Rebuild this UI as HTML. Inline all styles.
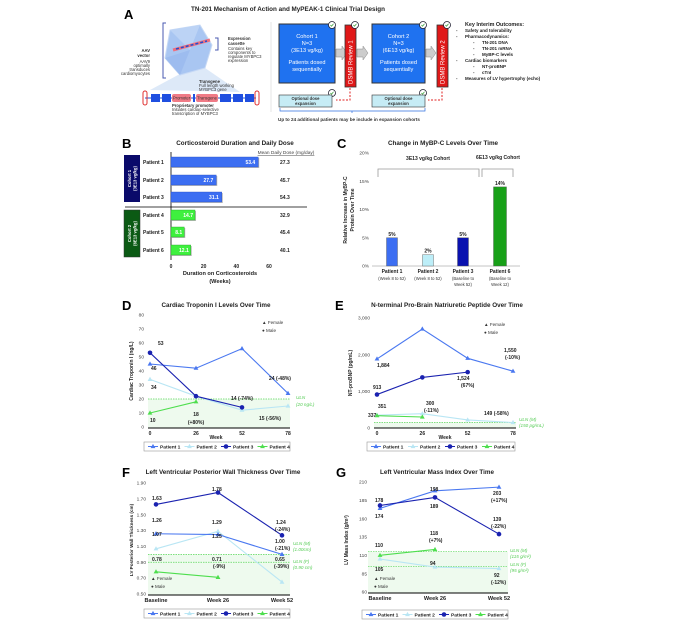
<!DOCTYPE html>
<html><head><meta charset="utf-8"><style>
html,body{margin:0;padding:0;background:#fff;}
svg{display:block;font-family:"Liberation Sans",sans-serif;}
.t{font-size:6.3px;font-weight:bold;fill:#222;text-anchor:middle}
.L{font-size:13px;font-weight:bold;fill:#000}
.tk{font-size:4.8px;fill:#444}
.lb{font-size:5px;font-weight:bold;fill:#222}
.sm{font-size:4.2px;fill:#333}
.cb{font-size:5.6px;fill:#fff;text-anchor:middle}
.g{font-size:4.6px;fill:#55cc55;font-style:italic}
.ko{font-size:4.5px;font-weight:bold;fill:#222}
</style></head><body>
<svg id="fig" width="679" height="624" viewBox="0 0 679 624" xmlns="http://www.w3.org/2000/svg">
<!-- Panel A -->
<g>
<text class="L" x="124" y="19">A</text>
<text class="t" x="288" y="11">TN-201 Mechanism of Action and MyPEAK-1 Clinical Trial Design</text>
<polygon points="150,90 178,75 205,68 240,92" fill="#dde9f8"/>
<polygon points="170,30 200,25 212,45 205,68 180,75 165,58" fill="#a9c6f2" stroke="#c7d9f5"/>
<polygon points="170,30 200,25 190,50" fill="#bcd3f5"/>
<polygon points="165,58 180,75 190,50" fill="#9dbcef"/>
<line x1="173" y1="50" x2="210" y2="40" stroke="#ef6f7f" stroke-width="3"/>
<line x1="176" y1="49" x2="207" y2="41" stroke="#2050d0" stroke-width="1.5" stroke-dasharray="3,2"/>
<path d="M166,23 h-3 v55 h3" fill="none" stroke="#4a5ab0"/>
<text x="150" y="52" class="sm" font-weight="bold" fill="#223399" text-anchor="end">AAV</text>
<text x="150" y="57" class="sm" font-weight="bold" fill="#223399" text-anchor="end">vector</text>
<text x="150" y="63" class="sm" text-anchor="end">AAV9</text><text x="150" y="67" class="sm" text-anchor="end">optimally</text><text x="150" y="71" class="sm" text-anchor="end">transduces</text><text x="150" y="75" class="sm" text-anchor="end">cardiomyocytes</text>
<path d="M215,38 h3 v12 h-3" fill="none" stroke="#4a5ab0"/>
<text x="228" y="40" class="sm" font-weight="bold" fill="#223399">Expression</text>
<text x="228" y="45" class="sm" font-weight="bold" fill="#223399">cassette</text>
<text x="228" y="50" class="sm">Contains key</text><text x="228" y="54" class="sm">components to</text><text x="228" y="58" class="sm">regulate MYBPC3</text><text x="228" y="62" class="sm">expression</text>
<text x="199" y="83" class="sm" font-weight="bold" fill="#223399">Transgene</text>
<text x="199" y="87" class="sm">Full length working</text><text x="199" y="91" class="sm">MYBPC3 gene</text>
<g>
<line x1="145" y1="98" x2="256" y2="98" stroke="#2050d0" stroke-width="1"/>
<rect x="143" y="91" width="4" height="14" rx="2" fill="none" stroke="#e03030"/>
<rect x="255" y="91" width="4" height="14" rx="2" fill="none" stroke="#e03030"/>
<rect x="151" y="94" width="9" height="8" fill="#1f4fe0"/><rect x="162" y="94" width="9" height="8" fill="#1f4fe0"/>
<rect x="172" y="94" width="19" height="8" rx="2" fill="#f07b86"/><text x="181.5" y="99.5" class="sm" fill="#fff" text-anchor="middle">Promoter</text>
<rect x="193" y="94" width="2" height="8" fill="#1f4fe0"/>
<rect x="196" y="94" width="22" height="8" rx="2" fill="#f07b86"/><text x="207" y="99.5" class="sm" fill="#fff" text-anchor="middle">Transgene</text>
<rect x="220" y="94" width="11" height="8" fill="#1f4fe0"/><rect x="233" y="94" width="10" height="8" fill="#1f4fe0"/><rect x="245" y="94" width="9" height="8" fill="#1f4fe0"/>
</g>
<text x="172" y="107" class="sm" font-weight="bold" fill="#223399">Proprietary promoter</text>
<text x="172" y="111" class="sm">Initiates cardiac-selective</text><text x="172" y="115" class="sm">transcription of MYBPC3</text>
<line x1="271" y1="22" x2="271" y2="112" stroke="#ccc" stroke-width="0.5"/>
<rect x="279" y="24" width="56" height="59" fill="#1f72f0" stroke="#333" stroke-width="1"/>
<text x="307" y="38" class="cb">Cohort 1</text>
<text x="307" y="45" class="cb">N=3</text>
<text x="307" y="52" class="cb">(3E13 vg/kg)</text>
<text x="307" y="64" class="cb">Patients dosed</text>
<text x="307" y="71" class="cb">sequentially</text>
<polygon points="336,49 342,49 342,46 347,53 342,60 342,57 336,57" fill="#ccc" stroke="#888" stroke-width="0.5"/>
<rect x="345" y="25" width="11" height="62" fill="#e01818" stroke="#333" stroke-width="0.8"/>
<text transform="translate(352.5,84) rotate(-90)" class="cb" style="text-anchor:start;font-size:6px">DSMB Review 1</text>
<polygon points="357,49 363,49 363,46 368,53 363,60 363,57 357,57" fill="#ccc" stroke="#888" stroke-width="0.5"/>
<rect x="372" y="24" width="53" height="59" fill="#1f72f0" stroke="#333" stroke-width="1"/>
<text x="398.5" y="38" class="cb">Cohort 2</text>
<text x="398.5" y="45" class="cb">N=3</text>
<text x="398.5" y="52" class="cb">(6E13 vg/kg)</text>
<text x="398.5" y="64" class="cb">Patients dosed</text>
<text x="398.5" y="71" class="cb">sequentially</text>
<polygon points="426,49 431,49 431,46 436,53 431,60 431,57 426,57" fill="#ccc" stroke="#888" stroke-width="0.5"/>
<rect x="437" y="25" width="11" height="62" fill="#e01818" stroke="#333" stroke-width="0.8"/>
<text transform="translate(444.5,84) rotate(-90)" class="cb" style="text-anchor:start;font-size:6px">DSMB Review 2</text>
<g fill="#fff" stroke="#223" stroke-width="0.8">
<circle cx="332" cy="25" r="3.5"/><circle cx="355" cy="25" r="3.5"/><circle cx="423" cy="25" r="3.5"/><circle cx="447" cy="25" r="3.5"/><circle cx="332" cy="93" r="3.5"/><circle cx="423" cy="93" r="3.5"/>
</g>
<g fill="none" stroke="#2a9a2a" stroke-width="0.7">
<path d="M330.5,25 l1,1.2 l2,-2.4"/><path d="M353.5,25 l1,1.2 l2,-2.4"/><path d="M421.5,25 l1,1.2 l2,-2.4"/><path d="M445.5,25 l1,1.2 l2,-2.4"/><path d="M330.5,93 l1,1.2 l2,-2.4"/><path d="M421.5,93 l1,1.2 l2,-2.4"/>
</g>
<path d="M350,88 v12 h-14 M442,88 v12 h-14" fill="none" stroke="#e02020" stroke-dasharray="2,1.5"/>
<rect x="279" y="95" width="53" height="12" fill="#c6ecf5" stroke="#333" stroke-width="0.6"/>
<text x="305.5" y="100" class="sm" font-weight="bold" text-anchor="middle">Optional dose</text><text x="305.5" y="105" class="sm" font-weight="bold" text-anchor="middle">expansion</text>
<rect x="372" y="95" width="53" height="12" fill="#c6ecf5" stroke="#333" stroke-width="0.6"/>
<text x="398.5" y="100" class="sm" font-weight="bold" text-anchor="middle">Optional dose</text><text x="398.5" y="105" class="sm" font-weight="bold" text-anchor="middle">expansion</text>
<path d="M280,108 v3 h145 v-3 M352,111 v2" fill="none" stroke="#3070e0" stroke-width="0.7"/>
<text x="278" y="121" class="sm" font-weight="bold" style="font-size:4.6px">Up to 24 additional patients may be include in expansion cohorts</text>
<g>
<text x="465" y="26" class="ko" style="font-size:5.4px">Key Interim Outcomes:</text>
<text x="456" y="32" class="ko">-</text><text x="465" y="32" class="ko">Safety and tolerability</text>
<text x="456" y="38" class="ko">-</text><text x="465" y="38" class="ko">Pharmacodynamics:</text>
<text x="473" y="44" class="ko">-</text><text x="482" y="44" class="ko">TN-201 DNA</text>
<text x="473" y="50" class="ko">-</text><text x="482" y="50" class="ko">TN-201 mRNA</text>
<text x="473" y="56" class="ko">-</text><text x="482" y="56" class="ko">MyBP-C levels</text>
<text x="456" y="62" class="ko">-</text><text x="465" y="62" class="ko">Cardiac biomarkers</text>
<text x="473" y="68" class="ko">-</text><text x="482" y="68" class="ko">NT-proBNP</text>
<text x="473" y="74" class="ko">-</text><text x="482" y="74" class="ko">cTnI</text>
<text x="456" y="80" class="ko">-</text><text x="465" y="80" class="ko">Measures of LV hypertrophy (echo)</text>
</g>
</g>
<!-- Panel B static -->
<text class="L" x="122" y="148">B</text>
<text class="t" x="235" y="145">Corticosteroid Duration and Daily Dose</text>
<text x="286" y="154" class="tk" text-anchor="middle" text-decoration="underline">Mean Daily Dose (mg/day)</text>
<rect x="124" y="155" width="16" height="47" fill="#0a0a6a"/>
<text transform="translate(131,178.5) rotate(-90)" class="sm" fill="#fff" text-anchor="middle" style="fill:#fff;font-weight:bold">Cohort 1</text>
<text transform="translate(136.5,178.5) rotate(-90)" class="sm" text-anchor="middle" style="fill:#fff;font-weight:bold">(3E13 vg/kg)</text>
<rect x="124" y="210" width="16" height="47" fill="#0b5a14" stroke="#333" stroke-width="0.5"/>
<text transform="translate(131,233.5) rotate(-90)" class="sm" text-anchor="middle" style="fill:#fff;font-weight:bold">Cohort 2</text>
<text transform="translate(136.5,233.5) rotate(-90)" class="sm" text-anchor="middle" style="fill:#fff;font-weight:bold">(6E13 vg/kg)</text>
<line x1="125" y1="207" x2="307" y2="207" stroke="#000" stroke-width="0.8"/>
<text x="220" y="275" class="lb" text-anchor="middle" style="font-size:5.6px">Duration on Corticosteroids</text>
<text x="220" y="283" class="lb" text-anchor="middle" style="font-size:5.6px">(Weeks)</text>
<g id="gB"></g>
<!-- Panel C static -->
<text class="L" x="337" y="148">C</text>
<text class="t" x="443" y="145">Change in MyBP-C Levels Over Time</text>
<text x="428" y="160" class="lb" text-anchor="middle">3E13 vg/kg Cohort</text>
<text x="498" y="159" class="lb" text-anchor="middle">6E13 vg/kg Cohort</text>
<path d="M378,177 v-8 h101 v8 M482,177 v-8 h31 v8" fill="none" stroke="#999" stroke-width="0.8"/>
<text transform="translate(347,210) rotate(-90)" class="lb" text-anchor="middle">Relative Increase in MyBP-C</text>
<text transform="translate(354,210) rotate(-90)" class="lb" text-anchor="middle">Protein Over Time</text>
<g id="gC"></g>
<!-- Panel D static -->
<text class="L" x="122" y="310">D</text>
<text class="t" x="216" y="307">Cardiac Troponin I Levels Over Time</text>
<text transform="translate(133,371) rotate(-90)" class="lb" text-anchor="middle">Cardiac Troponin I (ng/L)</text>
<text x="216" y="439" class="lb" text-anchor="middle">Week</text>
<g id="gD"></g>
<g>
<text class="lb" x="158" y="345">53</text><text class="lb" x="151" y="370">46</text><text class="lb" x="151" y="389">34</text><text class="lb" x="150" y="422">10</text>
<text class="lb" x="196" y="416" text-anchor="middle">18</text><text class="lb" x="196" y="424" text-anchor="middle">(+80%)</text>
<text class="lb" x="242" y="400" text-anchor="middle">14 (-74%)</text><text class="lb" x="270" y="420" text-anchor="middle">15 (-56%)</text><text class="lb" x="280" y="380" text-anchor="middle">24 (-48%)</text>
</g>
<text x="296" y="399" class="g">ULN</text><text x="296" y="406" class="g">(20 ng/L)</text>
<!-- Panel E static -->
<text class="L" x="335" y="310">E</text>
<text class="t" x="447" y="307">N-terminal Pro-Brain Natriuretic Peptide Over Time</text>
<text transform="translate(352,373) rotate(-90)" class="lb" text-anchor="middle">NT-proBNP (pg/mL)</text>
<text x="445" y="439" class="lb" text-anchor="middle">Week</text>
<g id="gE"></g>
<g>
<text class="lb" x="377" y="367">1,884</text><text class="lb" x="373" y="389">913</text><text class="lb" x="457" y="380">1,524</text><text class="lb" x="461" y="387">(67%)</text>
<text class="lb" x="504" y="352">1,550</text><text class="lb" x="505" y="359">(-10%)</text>
<text class="lb" x="378" y="408">351</text><text class="lb" x="368" y="417">337</text>
<text class="lb" x="426" y="405">300</text><text class="lb" x="424" y="412">(-11%)</text><text class="lb" x="484" y="415">149 (-58%)</text>
</g>
<text x="519" y="421" class="g">ULN (M)</text><text x="519" y="427" class="g">(150 pg/mL)</text>
<!-- Panel F static -->
<text class="L" x="122" y="477">F</text>
<text class="t" x="223" y="474">Left Ventricular Posterior Wall Thickness Over Time</text>
<text transform="translate(133,540) rotate(-90)" class="lb" text-anchor="middle" style="font-size:4.6px">LV Posterior Wall Thickness (cm)</text>
<g id="gF"></g>
<g>
<text class="lb" x="152" y="500">1.63</text><text class="lb" x="212" y="491">1.78</text><text class="lb" x="276" y="524">1.24</text><text class="lb" x="275" y="531">(-24%)</text>
<text class="lb" x="152" y="522">1.26</text><text class="lb" x="212" y="524">1.29</text><text class="lb" x="212" y="538">1.25</text><text class="lb" x="275" y="543">1.00</text><text class="lb" x="275" y="550">(-21%)</text>
<text class="lb" x="152" y="536">1.07</text><text class="lb" x="152" y="561">0.78</text><text class="lb" x="212" y="561">0.71</text><text class="lb" x="213" y="568">(-9%)</text>
<text class="lb" x="275" y="561">0.65</text><text class="lb" x="274" y="568">(-39%)</text>
</g>
<text x="293" y="545" class="g">ULN (M)</text><text x="293" y="551" class="g">(1.00cm)</text>
<text x="293" y="563" class="g">ULN (F)</text><text x="293" y="569" class="g">(0.90 cm)</text>
<text x="151" y="580" class="sm" style="font-size:4.6px">▲ Female</text><text x="151" y="588" class="sm" style="font-size:4.6px">● Male</text>
<!-- Panel G static -->
<text class="L" x="336" y="477">G</text>
<text class="t" x="437" y="474">Left Ventricular Mass Index Over Time</text>
<text transform="translate(348,540) rotate(-90)" class="lb" text-anchor="middle">LV Mass Index (g/m²)</text>
<g id="gG"></g>
<g>
<text class="lb" x="375" y="502">178</text><text class="lb" x="375" y="518">174</text><text class="lb" x="430" y="491">198</text><text class="lb" x="430" y="508">189</text>
<text class="lb" x="493" y="495">203</text><text class="lb" x="491" y="502">(+17%)</text><text class="lb" x="493" y="521">139</text><text class="lb" x="491" y="528">(-22%)</text>
<text class="lb" x="375" y="547">110</text><text class="lb" x="430" y="535">118</text><text class="lb" x="429" y="542">(+7%)</text><text class="lb" x="430" y="565">94</text>
<text class="lb" x="375" y="571">105</text><text class="lb" x="494" y="577">92</text><text class="lb" x="491" y="584">(-12%)</text>
</g>
<text x="510" y="552" class="g">ULN (M)</text><text x="510" y="558" class="g">(115 g/m²)</text>
<text x="510" y="566" class="g">ULN (F)</text><text x="510" y="572" class="g">(95 g/m²)</text>
<text x="374" y="580" class="sm" style="font-size:4.6px">▲ Female</text><text x="374" y="588" class="sm" style="font-size:4.6px">● Male</text>
</svg>
<script>
// ---------- data ----------
const bPatients=["Patient 1","Patient 2","Patient 3","Patient 4","Patient 5","Patient 6"];
const bDuration=[53.4,27.7,31.1,14.7,8.1,12.1];
const bDose=[27.3,45.7,54.3,32.9,45.4,40.1];
const bTicks=[0,20,40,60];
const cCats=["Patient 1","Patient 2","Patient 3","Patient 6"];
const cSub1=["(Week 8 to 52)","(Week 8 to 52)","(Baseline to","(Baseline to"];
const cSub2=["","","Week 52)","Week 12)"];
const cValues=[5,2,5,14];
const cTicks=[0,5,10,15,20];
const dWeeks=[0,26,52,78];
const dYTicks=[0,10,20,30,40,50,60,70,80];
const dP1=[45,42,56,24];
const dP2=[34,22,12,15];
const dP3=[53,22,14];
const dP4=[10,18];
const dULN=20;
const eWeeks=[0,26,52,78];
const eYTicks=[0,1000,2000,3000];
const eP1=[1884,2700,1900,1550];
const eP2=[351,390,220,149];
const eP3=[913,1380,1524];
const eP4=[337,300];
const eULN=150;
const fCats=["Baseline","Week 26","Week 52"];
const fYTicks=[0.5,0.7,0.9,1.1,1.3,1.5,1.7,1.9];
const fP1=[1.26,1.25,1.00];
const fP2=[1.07,1.29,0.65];
const fP3=[1.63,1.78,1.24];
const fP4=[0.78,0.71];
const fULNM=1.00, fULNF=0.90;
const gCats=["Baseline","Week 26","Week 52"];
const gYTicks=[60,85,110,135,160,185,210];
const gP1=[174,198,203];
const gP2=[105,94,92];
const gP3=[178,189,139];
const gP4=[110,118];
const gULNM=115, gULNF=95;
// ---------- helpers ----------
const NS="http://www.w3.org/2000/svg";
function mk(p,tag,a,txt){const e=document.createElementNS(NS,tag);for(const k in a){if(k==="fs")e.style.fontSize=a[k]+"px";else if(k==="fillc")e.style.fill=a[k];else e.setAttribute(k,a[k]);}if(txt!==undefined)e.textContent=txt;p.appendChild(e);return e;}
const COL={p1:"#4a78f0",p2:"#b9e6f4",p3:"#1a22b0",p4:"#4ede4e"};
function marker(g,x,y,col,circle){let m;
 if(circle){m=mk(g,"circle",{cx:x,cy:y,r:2.3,fill:col});}
 else{m=mk(g,"polygon",{points:`${x},${y-2.6} ${x+2.4},${y+1.6} ${x-2.4},${y+1.6}`,fill:col});}
 
 }
function series(g,xs,vals,sx,sy,col,circle,name){
 const pts=vals.map((v,i)=>sx(xs[i])+","+sy(v)).join(" ");
 const l=mk(g,"polyline",{points:pts,fill:"none",stroke:col,"stroke-width":1.1});
 
 
 vals.forEach((v,i)=>marker(g,sx(xs[i]),sy(v),col,circle));}
function yAxis(g,ticks,sy,xr,fmt){ticks.forEach(t=>{const tx=mk(g,"text",{x:xr,y:sy(t)+1.6,class:"tk","text-anchor":"end"},fmt(t));
 
 });}
function legend(g,x0,y0,w){const r=mk(g,"rect",{x:x0,y:y0,width:w,height:9,fill:"#fff",stroke:"#999","stroke-width":0.6});
 
 
 const names=["Patient 1","Patient 2","Patient 3","Patient 4"],cols=[COL.p1,COL.p2,COL.p3,COL.p4];
 names.forEach((n,i)=>{const x=x0+4+i*w/4;mk(g,"line",{x1:x,y1:y0+4.5,x2:x+10,y2:y0+4.5,stroke:cols[i],"stroke-width":1});
 marker(g,x+5,y0+4.5,cols[i],i==2);
 const t=mk(g,"text",{x:x+12,y:y0+6.3,class:"lb",fs:4.9},n);
 
 });}
// ---------- Panel B ----------
(function(){const g=document.getElementById("gB");
 const sx=v=>171+v*98/60;const rows=[162,180,197,215,232,250];
 mk(g,"line",{x1:171,y1:152,x2:171,y2:260,stroke:"#000","stroke-width":0.8});
 bTicks.forEach(t=>{const tx=mk(g,"text",{x:sx(t),y:268,class:"lb","text-anchor":"middle"},t);
 
 });
 bPatients.forEach((p,i)=>{const y=rows[i];const c=i<3?"#3c6ef2":"#3ef03e";
 const lt=mk(g,"text",{x:143,y:y+1.8,class:"lb"},p);
 
 
 mk(g,"rect",{x:172,y:y-4,width:sx(bDuration[i])-171,height:10,fill:"#bbb"});
 const b=mk(g,"rect",{x:171,y:y-5,width:sx(bDuration[i])-171,height:10,fill:c,stroke:i<3?"#2a4fc0":"#2aa02a","stroke-width":0.4});
 
 
 mk(g,"text",{x:sx(bDuration[i])-(i<3?3:2),y:y+1.8,class:"lb",fillc:"#fff","text-anchor":"end"},bDuration[i].toFixed(1));
 const d=mk(g,"text",{x:280,y:y+1.8,class:"lb"},bDose[i].toFixed(1));
 
 });})();
// ---------- Panel C ----------
(function(){const g=document.getElementById("gC");const sy=v=>266-v*113/20;
 const xs=[392,428,463,500];const cols=["#3c6ef2","#bdeef8","#0a12b0","#18a018"];
 yAxis(g,cTicks,sy,369,t=>t+"%");
 mk(g,"line",{x1:372,y1:266,x2:520,y2:266,stroke:"#888","stroke-width":0.5});
 cCats.forEach((c,i)=>{const w=i==3?13:11;const b=mk(g,"rect",{x:xs[i]-w/2,y:sy(cValues[i]),width:w,height:266-sy(cValues[i]),fill:cols[i],stroke:"#555","stroke-width":0.4});
 
 
 mk(g,"text",{x:xs[i],y:sy(cValues[i])-2,class:"lb","text-anchor":"middle"},cValues[i]+"%");
 const t=mk(g,"text",{x:xs[i],y:273,class:"lb","text-anchor":"middle"},c);
 
 
 mk(g,"text",{x:xs[i],y:280,class:"sm","text-anchor":"middle"},cSub1[i]);
 mk(g,"text",{x:xs[i],y:286,class:"sm","text-anchor":"middle"},cSub2[i]);});})();
// ---------- line panel builder ----------
function linePanel(id,o){const g=document.getElementById(id);
 mk(g,"rect",{x:o.x0,y:o.sy(o.fillTo),width:o.x1-o.x0,height:o.yb-o.sy(o.fillTo),fill:"#eefaee"});
 o.ulns.forEach(u=>{const l=mk(g,"line",{x1:o.x0,y1:o.sy(u),x2:o.x1,y2:o.sy(u),stroke:"#5ad85a","stroke-width":0.7,"stroke-dasharray":"1.5,1"});
 
 });
 mk(g,"line",{x1:o.x0,y1:o.yb,x2:o.x1,y2:o.yb,stroke:"#000","stroke-width":1});
 yAxis(g,o.yt,o.sy,o.yr,o.fmt);
 o.xt.forEach((t,i)=>{const tx=mk(g,"text",{x:o.sx(o.xv[i]),y:o.yb+7,class:"lb","text-anchor":"middle",fs:o.xfs||5},t);
 
 });
 series(g,o.xv,o.s[1],o.sx,o.sy,COL.p2,false,"series-patient-2");
 series(g,o.xv,o.s[3],o.sx,o.sy,COL.p4,false,"series-patient-4");
 series(g,o.xv,o.s[0],o.sx,o.sy,COL.p1,false,"series-patient-1");
 series(g,o.xv,o.s[2],o.sx,o.sy,COL.p3,true,"series-patient-3");
 if(o.sexLeg){mk(g,"text",{x:o.sexLeg[0],y:o.sexLeg[1],class:"sm",fs:4.6},"▲ Female");mk(g,"text",{x:o.sexLeg[0],y:o.sexLeg[1]+8,class:"sm",fs:4.6},"● Male");}
 legend(g,o.leg[0],o.leg[1],o.leg[2]);}
linePanel("gD",{x0:148,x1:290,yb:428,sy:v=>427-v*112/80,sx:w=>150+w*138/78,xv:dWeeks,xt:dWeeks,yt:dYTicks,yr:144,fmt:t=>t,
 fillTo:dULN,ulns:[dULN],s:[dP1,dP2,dP3,dP4],sexLeg:[262,324],leg:[144,442,146]});
linePanel("gE",{x0:374,x1:516,yb:428,sy:v=>428-v*110/3000,sx:w=>377+w*136/78,xv:eWeeks,xt:eWeeks,yt:eYTicks,yr:370,fmt:t=>t.toLocaleString("en-US"),
 fillTo:eULN,ulns:[eULN],s:[eP1,eP2,eP3,eP4],sexLeg:[484,326],leg:[367,442,148]});
linePanel("gF",{x0:148,x1:290,yb:595,sy:v=>594-(v-0.5)*111/1.4,sx:i=>[156,218,282][i],xv:[0,1,2],xt:fCats,yt:fYTicks,yr:146,fmt:t=>t.toFixed(2),
 fillTo:fULNM,ulns:[fULNM,fULNF],s:[fP1,fP2,fP3,fP4],xfs:5.6,leg:[144,609,146]});
linePanel("gG",{x0:368,x1:508,yb:593,sy:v=>592-(v-60)*110/150,sx:i=>[380,435,499][i],xv:[0,1,2],xt:gCats,yt:gYTicks,yr:367,fmt:t=>t,
 fillTo:gULNM,ulns:[gULNM,gULNF],s:[gP1,gP2,gP3,gP4],xfs:5.6,leg:[362,610,146]});
</script>
</body></html>
